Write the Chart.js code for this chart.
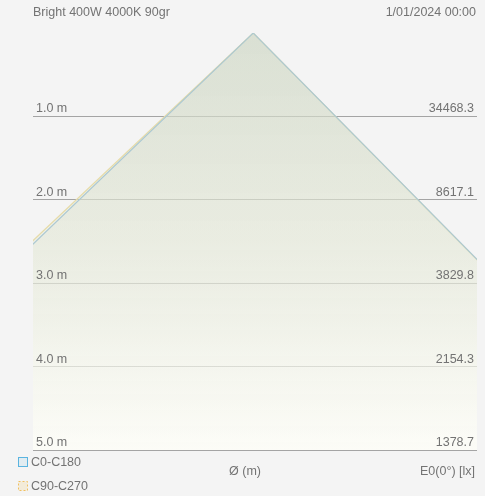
<html lang="en">
  <head>
    <meta charset="UTF-8" />
    <title>Cone</title>
    <script src="https://cdn.jsdelivr.net/npm/chart.js"></script>
    <style>
      html, body { margin: 0; padding: 0; background: #f4f4f4; }
      #wrap { width: 485px; height: 496px; }
    </style>
  </head>
  <body>
    <div id="wrap"><canvas id="cone"></canvas></div>
  </body>
  <script>
    // data
    const distances = [1, 2, 3, 4, 5];
    const distLabels = ["1.0 m", "2.0 m", "3.0 m", "4.0 m", "5.0 m"];
    const illuminance = ["34468.3", "8617.1", "3829.8", "2154.3", "1378.7"];
    const seriesNames = ["C0-C180", "C90-C270"];
    // cone edges: x at 5 m depth, left / apex / right
    const c0X = [-4.92, -0.02, 4.62];
    const c0Y = [5, 0, 5];
    const c90X = [-5.0, -0.02, 4.61];
    const c90Y = [5, 0, 5];

    const toPts = (xs, ys) => xs.map((x, i) => ({ x: x, y: ys[i] }));

    function coneFill(ctx) {
      const area = ctx.chart.chartArea;
      if (!area) return "rgba(0,0,0,0)";
      const g = ctx.chart.ctx.createLinearGradient(0, area.top, 0, area.bottom);
      g.addColorStop(0, "rgba(205,214,195,0.42)");
      g.addColorStop(0.5, "rgba(228,232,215,0.4)");
      g.addColorStop(1, "rgba(255,255,248,0.45)");
      return g;
    }

    const labelsPlugin = {
      id: "labels",
      afterDraw(chart) {
        const c = chart.ctx;
        const a = chart.chartArea;
        const y = chart.scales.y;
        c.save();
        c.fillStyle = "#737373";
        c.font = "12.5px 'Liberation Sans', Arial, sans-serif";
        c.textBaseline = "middle";
        // header
        c.textAlign = "left";
        c.fillText("Bright 400W 4000K 90gr", 33, 13);
        c.textAlign = "right";
        c.fillText("1/01/2024 00:00", 476, 13);
        // distance / lux labels
        c.textBaseline = "alphabetic";
        distances.forEach((d, i) => {
          const py = y.getPixelForValue(d);
          c.textAlign = "left";
          c.fillText(distLabels[i], a.left + 3, py - 4);
          c.textAlign = "right";
          c.fillText(illuminance[i], a.right - 3, py - 4);
        });
        // footer
        c.textBaseline = "middle";
        c.textAlign = "center";
        c.fillText("Ø (m)", 245, 472);
        c.textAlign = "right";
        c.fillText("E0(0°) [lx]", 475, 472);
        // legend
        c.textAlign = "left";
        c.lineWidth = 1;
        c.strokeStyle = "#5ab4e0";
        c.fillStyle = "rgba(90,180,224,0.12)";
        c.fillRect(18.5, 457.5, 9, 9);
        c.strokeRect(18.5, 457.5, 9, 9);
        c.strokeStyle = "#f0c060";
        c.fillStyle = "rgba(240,192,96,0.18)";
        c.fillRect(18.5, 481.5, 9, 9);
        c.setLineDash([2, 2]);
        c.strokeRect(18.5, 481.5, 9, 9);
        c.setLineDash([]);
        c.fillStyle = "#737373";
        c.fillText(seriesNames[0], 31, 463);
        c.fillText(seriesNames[1], 31, 487);
        c.restore();
      },
    };

    // dataset 0 is painted last, so C0-C180 sits on top
    new Chart(document.getElementById("cone"), {
      type: "scatter",
      data: {
        datasets: [
          {
            label: seriesNames[0],
            data: toPts(c0X, c0Y),
            showLine: true,
            borderColor: "#adc9d2",
            borderWidth: 1.2,
            pointRadius: 0,
            fill: "start",
            backgroundColor: coneFill,
          },
          {
            label: seriesNames[1],
            data: toPts(c90X, c90Y),
            showLine: true,
            borderColor: "#e6dba8",
            borderWidth: 1.2,
            pointRadius: 0,
            fill: "start",
            backgroundColor: coneFill,
          },
        ],
      },
      options: {
        responsive: true,
        maintainAspectRatio: false,
        animation: false,
        layout: { padding: { left: 33, right: 8, top: 33, bottom: 46 } },
        plugins: { legend: { display: false }, tooltip: { enabled: false } },
        scales: {
          x: { type: "linear", min: -2.5, max: 2.5, display: false },
          y: {
            type: "linear",
            min: 0,
            max: 5,
            reverse: true,
            afterFit: (s) => { s.width = 0; },
            ticks: { display: false, stepSize: 1 },
            border: { display: false },
            grid: {
              drawTicks: false,
              color: (ctx) => (ctx.tick && ctx.tick.value === 0 ? "rgba(0,0,0,0)" : "#a4a4a4"),
            },
          },
        },
      },
      plugins: [labelsPlugin],
    });
  </script>
</html>
